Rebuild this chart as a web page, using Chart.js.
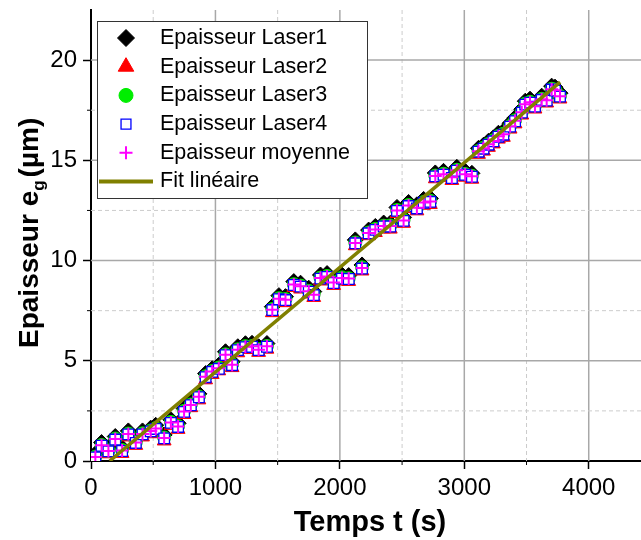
<!DOCTYPE html>
<html>
<head>
<meta charset="utf-8">
<script src="https://cdn.jsdelivr.net/npm/chart.js@4/dist/chart.umd.min.js"></script>
<style>
  body { margin: 0; background: #ffffff; }
  #myCanvas { display: block; }
</style>
</head>
<body>
<canvas id="myCanvas" width="641" height="540"></canvas>
<script>
'use strict';

// data, time in s, thickness in µm
let timeArray = [35, 85, 140, 195, 250, 300, 360, 414, 480, 520, 588, 642, 700, 748, 802, 867, 921, 974, 1027, 1081, 1134, 1180, 1241, 1294, 1347, 1414, 1457, 1510, 1563, 1630, 1684, 1750, 1790, 1844, 1897, 1950, 2017, 2071, 2124, 2178, 2231, 2285, 2352, 2405, 2459, 2512, 2552, 2619, 2673, 2727, 2767, 2833, 2900, 2940, 3007, 3061, 3114, 3154, 3194, 3234, 3274, 3314, 3368, 3408, 3462, 3490, 3528, 3568, 3622, 3662, 3702, 3729, 3769];
let laser1Array = [0.35, 0.92, 0.68, 1.22, 0.66, 1.5, 1.05, 1.5, 1.64, 1.78, 1.3, 2.06, 1.88, 2.62, 2.95, 3.35, 4.36, 4.6, 4.78, 5.45, 4.95, 5.7, 5.85, 5.87, 5.7, 5.86, 7.7, 8.25, 8.2, 8.95, 8.87, 8.62, 8.45, 9.28, 9.35, 9.05, 9.28, 9.25, 11.03, 9.78, 11.52, 11.7, 11.87, 11.86, 12.65, 12.15, 12.9, 12.78, 13.05, 13.1, 14.37, 14.45, 14.3, 14.65, 14.45, 14.35, 15.6, 15.75, 15.95, 16.12, 16.35, 16.45, 16.85, 17.12, 17.55, 17.95, 18.05, 17.85, 18.2, 18.15, 18.7, 18.65, 18.35];
let laser2Array = [0.08, 0.62, 0.36, 0.95, 0.38, 1.2, 0.78, 1.2, 1.36, 1.46, 1.0, 1.78, 1.58, 2.32, 2.66, 3.05, 4.05, 4.32, 4.5, 5.15, 4.66, 5.4, 5.56, 5.57, 5.42, 5.58, 7.4, 7.96, 7.9, 8.66, 8.58, 8.33, 8.16, 8.98, 9.06, 8.76, 8.98, 8.96, 10.74, 9.48, 11.24, 11.4, 11.58, 11.57, 12.35, 11.86, 12.6, 12.48, 12.76, 12.8, 14.08, 14.15, 14.0, 14.36, 14.16, 14.06, 15.3, 15.46, 15.65, 15.82, 16.06, 16.15, 16.56, 16.82, 17.26, 17.66, 17.75, 17.56, 17.9, 17.86, 18.4, 18.36, 18.06];
let laser3Array = [0.22, 0.8, 0.52, 1.12, 0.55, 1.37, 0.94, 1.38, 1.52, 1.64, 1.17, 1.95, 1.74, 2.5, 2.82, 3.22, 4.23, 4.49, 4.66, 5.32, 4.83, 5.57, 5.73, 5.74, 5.58, 5.74, 7.58, 8.12, 8.08, 8.82, 8.75, 8.49, 8.33, 9.15, 9.23, 8.92, 9.16, 9.12, 10.9, 9.66, 11.4, 11.58, 11.74, 11.75, 12.52, 12.03, 12.77, 12.66, 12.92, 12.98, 14.24, 14.33, 14.17, 14.53, 14.32, 14.23, 15.47, 15.63, 15.82, 16.0, 16.22, 16.33, 16.72, 17.0, 17.42, 17.83, 17.92, 17.73, 18.07, 18.03, 18.57, 18.53, 18.22];
let laser4Array = [0.18, 0.76, 0.48, 1.07, 0.5, 1.33, 0.9, 1.33, 1.48, 1.6, 1.13, 1.9, 1.7, 2.45, 2.78, 3.18, 4.18, 4.45, 4.6, 5.28, 4.78, 5.53, 5.68, 5.7, 5.53, 5.7, 7.53, 8.07, 8.03, 8.78, 8.7, 8.45, 8.28, 9.1, 9.18, 8.88, 9.1, 9.08, 10.86, 9.6, 11.36, 11.53, 11.7, 11.7, 12.48, 11.98, 12.72, 12.6, 12.88, 12.93, 14.2, 14.28, 14.12, 14.48, 14.28, 14.18, 15.43, 15.58, 15.78, 15.95, 16.18, 16.28, 16.68, 16.95, 17.38, 17.78, 17.88, 17.68, 18.02, 17.98, 18.53, 18.48, 18.18];
let moyenneArray = [0.2, 0.78, 0.5, 1.1, 0.52, 1.35, 0.92, 1.35, 1.5, 1.62, 1.15, 1.92, 1.72, 2.47, 2.8, 3.2, 4.2, 4.47, 4.63, 5.3, 4.8, 5.55, 5.7, 5.72, 5.55, 5.72, 7.55, 8.1, 8.05, 8.8, 8.72, 8.47, 8.3, 9.13, 9.2, 8.9, 9.13, 9.1, 10.88, 9.63, 11.38, 11.55, 11.72, 11.72, 12.5, 12.0, 12.75, 12.63, 12.9, 12.95, 14.22, 14.3, 14.15, 14.5, 14.3, 14.2, 15.45, 15.6, 15.8, 15.97, 16.2, 16.3, 16.7, 16.97, 17.4, 17.8, 17.9, 17.7, 18.05, 18.0, 18.55, 18.5, 18.2];
// the fit line, two end points
let fitTimeArray = [150, 3770];
let fitValueArray = [0, 18.9];
let xTickArray = [0, 1000, 2000, 3000, 4000];
let yTickArray = [0, 5, 10, 15, 20];

const chartInfo = document.getElementById('myCanvas');
const fontName = '"Liberation Sans", Arial, sans-serif';

//turns two arrays into {x,y} points for the scatter datasets
function makePoints(xs, ys) {
  let points = [];
  for (let i = 0; i < xs.length; i++) {
    points.push({x: xs[i], y: ys[i]});
  }
  return points;
}

// grid lines (solid for major, dashed for minor) + the short minor ticks
const gridPlugin = {
  id: 'gridPlugin',
  beforeDatasetsDraw(chart) {
    const ctx = chart.ctx;
    const area = chart.chartArea;
    const xScale = chart.scales.x;
    const yScale = chart.scales.y;
    ctx.save();
    for (let v = 500; v < xScale.max; v += 500) {
      let px = xScale.getPixelForValue(v);
      let major = v % 1000 === 0;
      ctx.strokeStyle = major ? '#a8a8a8' : '#cccccc';
      ctx.lineWidth = major ? 1.5 : 1;
      ctx.setLineDash(major ? [] : [4, 3]);
      ctx.beginPath();
      ctx.moveTo(px, area.top);
      ctx.lineTo(px, area.bottom);
      ctx.stroke();
      if (!major) {
        ctx.setLineDash([]);
        ctx.strokeStyle = '#000000';
        ctx.beginPath();
        ctx.moveTo(px, area.bottom);
        ctx.lineTo(px, area.bottom + 4);
        ctx.stroke();
      }
    }
    for (let v = 2.5; v < yScale.max; v += 2.5) {
      let py = yScale.getPixelForValue(v);
      let major = v % 5 === 0;
      ctx.strokeStyle = major ? '#a8a8a8' : '#cccccc';
      ctx.lineWidth = major ? 1.5 : 1;
      ctx.setLineDash(major ? [] : [4, 3]);
      ctx.beginPath();
      ctx.moveTo(area.left, py);
      ctx.lineTo(area.right, py);
      ctx.stroke();
      if (!major) {
        ctx.setLineDash([]);
        ctx.strokeStyle = '#000000';
        ctx.beginPath();
        ctx.moveTo(area.left - 4, py);
        ctx.lineTo(area.left, py);
        ctx.stroke();
      }
    }
    ctx.restore();
  }
};

// axis titles drawn by hand because of the subscript g
const titlePlugin = {
  id: 'titlePlugin',
  afterDraw(chart) {
    const ctx = chart.ctx;
    ctx.save();
    ctx.fillStyle = '#000000';
    ctx.font = 'bold 29px ' + fontName;
    ctx.textAlign = 'center';
    ctx.textBaseline = 'alphabetic';
    ctx.fillText('Temps t (s)', 370, 531);

    ctx.translate(38, 348);
    ctx.rotate(-Math.PI / 2);
    ctx.textAlign = 'left';
    ctx.font = 'bold 28px ' + fontName;
    let part1 = 'Epaisseur e';
    ctx.fillText(part1, 0, 0);
    let w1 = ctx.measureText(part1).width;
    ctx.font = 'bold 17px ' + fontName;
    ctx.fillText('g', w1, 6);
    let wg = ctx.measureText('g').width;
    ctx.font = 'bold 28px ' + fontName;
    ctx.fillText('(µm)', w1 + wg + 3, 0);
    ctx.restore();
  }
};

// legend box sitting inside the plot, top left
const legendPlugin = {
  id: 'legendPlugin',
  afterDraw(chart) {
    const ctx = chart.ctx;
    ctx.save();
    ctx.fillStyle = '#ffffff';
    ctx.fillRect(97, 21, 270, 177);
    ctx.strokeStyle = '#333333';
    ctx.lineWidth = 1;
    ctx.strokeRect(97.5, 21.5, 270, 177);
    let rowY = 38;
    let legendOrder = [5, 4, 3, 2, 1, 0];
    let legendRadius = [8.5, 9, 7, 7, 6.5];
    for (let i = 0; i < legendOrder.length; i++) {
      let ds = chart.data.datasets[legendOrder[i]];
      if (ds.showLine) {
        ctx.strokeStyle = ds.borderColor;
        ctx.lineWidth = 4;
        ctx.beginPath();
        ctx.moveTo(99, rowY);
        ctx.lineTo(153, rowY);
        ctx.stroke();
      } else {
        ctx.fillStyle = ds.backgroundColor;
        ctx.strokeStyle = ds.borderColor;
        ctx.lineWidth = ds.borderWidth;
        Chart.helpers.drawPoint(ctx, {pointStyle: ds.pointStyle, radius: legendRadius[i], borderWidth: ds.borderWidth, rotation: 0}, 126, rowY);
      }
      ctx.fillStyle = '#000000';
      ctx.font = '21.5px ' + fontName;
      ctx.textAlign = 'left';
      ctx.textBaseline = 'middle';
      ctx.fillText(ds.label, 160, rowY);
      rowY += 28.7;
    }
    ctx.restore();
  }
};

//Chart.js likes to add room for half a tick label at the ends, I don't want that here
function noEndPadding(scale) {
  scale.paddingTop = 0;
  scale.paddingBottom = 0;
  scale.paddingLeft = 0;
  scale.paddingRight = 0;
}

function renderChart() {
  const data = {
    datasets: [{
      label: 'Fit linéaire',
      type: 'line',
      data: makePoints(fitTimeArray, fitValueArray),
      borderColor: '#808000',
      backgroundColor: '#808000',
      borderWidth: 3.5,
      pointRadius: 0,
      showLine: true,
      order: 0
    },
    {
      label: 'Epaisseur moyenne',
      data: makePoints(timeArray, moyenneArray),
      pointStyle: 'cross',
      pointRadius: 6.5,
      borderColor: '#ff00ff',
      backgroundColor: '#ff00ff',
      borderWidth: 2,
      order: 1
    },
    {
      label: 'Epaisseur Laser4',
      data: makePoints(timeArray, laser4Array),
      pointStyle: 'rect',
      pointRadius: 7.5,
      borderColor: '#0000ff',
      backgroundColor: '#ffffff',
      borderWidth: 1.3,
      order: 2
    },
    {
      label: 'Epaisseur Laser3',
      data: makePoints(timeArray, laser3Array),
      pointStyle: 'circle',
      pointRadius: 6.5,
      borderColor: '#00ee00',
      backgroundColor: '#00ee00',
      borderWidth: 1,
      order: 3
    },
    {
      label: 'Epaisseur Laser2',
      data: makePoints(timeArray, laser2Array),
      pointStyle: 'triangle',
      pointRadius: 8,
      borderColor: '#ff0000',
      backgroundColor: '#ff0000',
      borderWidth: 1,
      order: 4
    },
    {
      label: 'Epaisseur Laser1',
      data: makePoints(timeArray, laser1Array),
      pointStyle: 'rectRot',
      pointRadius: 8,
      borderColor: '#000000',
      backgroundColor: '#000000',
      borderWidth: 1,
      order: 5
    }]
  };
  const config = {
    type: 'scatter',
    data: data,
    plugins: [gridPlugin, titlePlugin, legendPlugin],
    options: {
      responsive: false,
      animation: false,
      devicePixelRatio: 1,
      layout: {
        autoPadding: false, // otherwise the point radius eats the right edge
        padding: {top: 10, right: 0, bottom: 0, left: 0}
      },
      plugins: {
        legend: {display: false},
        tooltip: {enabled: false}
      },
      scales: {
        x: {
          type: 'linear',
          min: 0,
          max: 4420,
          afterFit: function (scale) {
            scale.height = 79;
            noEndPadding(scale);
          },
          afterBuildTicks: function (scale) {
            scale.ticks = xTickArray.map(v => ({value: v}));
          },
          ticks: {
            color: '#000000',
            font: {family: fontName, size: 24},
            padding: 5,
            maxRotation: 0,
            includeBounds: false,
            callback: function (value) { return String(value); }
          },
          grid: {
            drawOnChartArea: false,
            drawTicks: true,
            tickLength: 8,
            tickColor: '#000000',
            tickWidth: 1.5
          },
          border: {color: '#000000', width: 2}
        },
        y: {
          type: 'linear',
          min: 0,
          max: 22.5,
          afterFit: function (scale) {
            scale.width = 91;
            noEndPadding(scale);
          },
          afterBuildTicks: function (scale) {
            scale.ticks = yTickArray.map(v => ({value: v}));
          },
          ticks: {
            color: '#000000',
            font: {family: fontName, size: 24},
            padding: 6,
            includeBounds: false,
            callback: function (value) { return String(value); }
          },
          grid: {
            drawOnChartArea: false,
            drawTicks: true,
            tickLength: 8,
            tickColor: '#000000',
            tickWidth: 1.5
          },
          border: {color: '#000000', width: 2}
        }
      }
    }
  };
  const myChart = new Chart(chartInfo, config);
}

renderChart();
</script>
</body>
</html>
